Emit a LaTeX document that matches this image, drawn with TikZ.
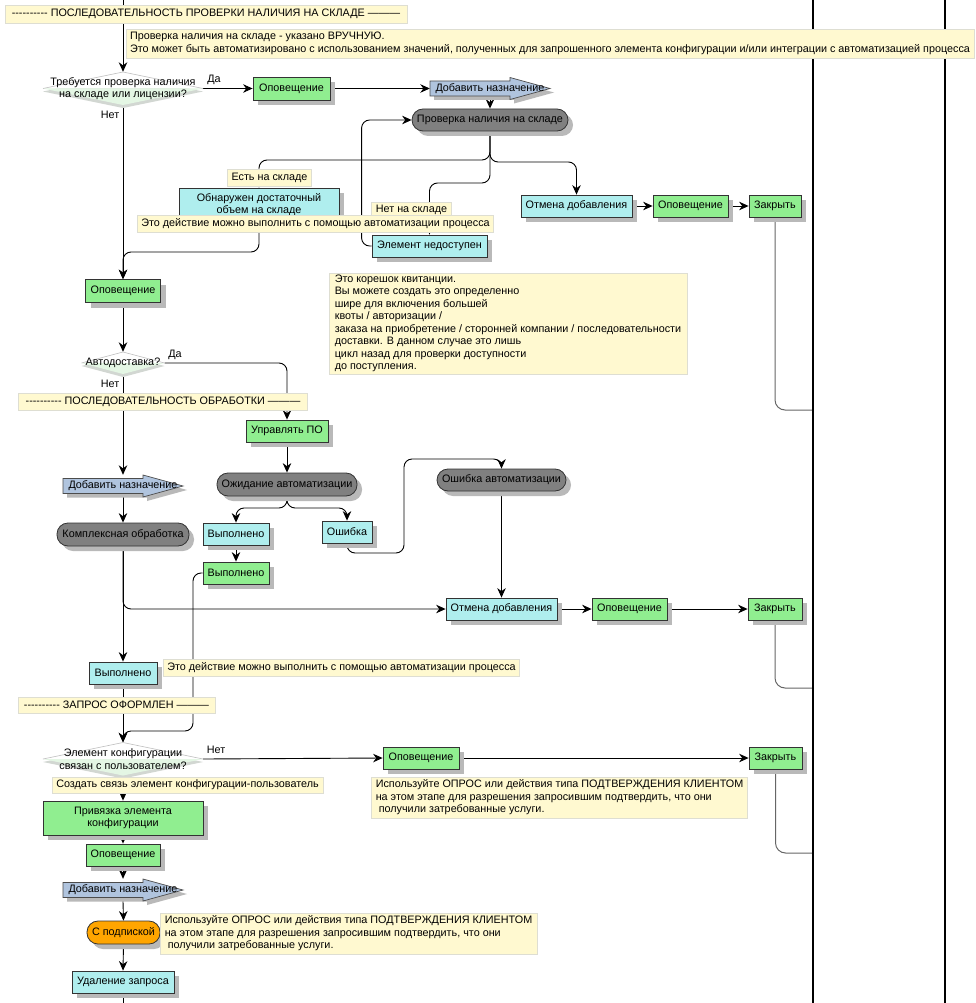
\documentclass[tikz,border=0pt]{standalone}
\usepackage{fontspec}
\setmainfont{Liberation Sans}[Ligatures=TeXOff]
\usetikzlibrary{arrows.meta,shadows}
\pgfdeclarelayer{back}
\pgfdeclarelayer{bg}
\pgfsetlayers{back,bg,main}
\definecolor{gfill}{RGB}{144,238,144}
\definecolor{cfill}{RGB}{175,238,238}
\definecolor{pfill}{RGB}{128,128,128}
\definecolor{afill}{RGB}{176,196,222}
\definecolor{ofill}{RGB}{255,165,0}
\definecolor{nfill}{RGB}{255,249,208}
\definecolor{nline}{RGB}{222,222,210}
\definecolor{shc}{RGB}{185,185,185}
\definecolor{dshc}{RGB}{210,215,210}
\definecolor{dfill}{RGB}{228,246,228}
\newcommand\addarrow[3]{%
\begin{scope}[shift={(#2,#3)}]
\fill[shc,shift={(4,4)}] (-60,-7.5)--(20,-7.5)--(20,-11)--(60,0)--(20,11)--(20,7.5)--(-60,7.5)--cycle;
\filldraw[fill=afill,draw=black!70,line width=0.7pt] (-60,-7.5)--(20,-7.5)--(20,-11)--(60,0)--(20,11)--(20,7.5)--(-60,7.5)--cycle;
\end{scope}
\node[txt,minimum width=120,minimum height=22] (#1) at (#2,#3) {Добавить назначение};}
\newcommand\decision[6]{%
\begin{scope}[shift={(#2,#3)}]
\fill[dshc,shift={(0,3)}] (-#4,0)--(0,-#5)--(#4,0)--(0,#5)--cycle;
\fill[white] (-#4,0)--(0,-#5)--(#4,0)--cycle;
\fill[dfill] (-#4,0)--(#4,0)--(0,#5)--cycle;
\draw[black!25,line width=0.6pt] (-#4,0)--(0,-#5)--(#4,0);
\end{scope}
\node[txt,minimum width=2*#4,minimum height=2*#5] (#1) at (#2,#3) {#6};}
\begin{document}
\begin{tikzpicture}[x=1pt,y=-1pt,
  every node/.style={font=\fontsize{10.8}{12.5}\selectfont},
  boxbase/.style={draw=black!80,line width=0.8pt,inner sep=0pt,align=center,
    drop shadow={shadow xshift=5pt,shadow yshift=-5pt,fill=shc,opacity=1}},
  gbox/.style={boxbase,fill=gfill},
  cbox/.style={boxbase,fill=cfill},
  pill/.style={boxbase,fill=pfill,rounded corners=11pt},
  opill/.style={boxbase,fill=ofill,rounded corners=11pt},
  note/.style={fill=nfill,draw=nline,line width=0.8pt,inner xsep=4pt,inner ysep=0pt,align=left},
  txt/.style={inner sep=0pt,align=center},
  conn/.style={line width=0.9pt,-{Stealth[length=9.5pt,width=8.5pt]}},
  plainline/.style={line width=0.9pt},
  lane/.style={draw=black!60,line width=1pt,rounded corners=10pt},
  rc/.style={rounded corners=8pt}
]
\useasboundingbox (0,0) rectangle (975,1003);
\begin{pgfonlayer}{back}
\fill[white] (0,0) rectangle (975,1003);
\end{pgfonlayer}
% swimlane lines
\coordinate (L1t) at (813,0); \coordinate (L1b) at (813,1003);
\coordinate (L2t) at (945,0); \coordinate (L2b) at (945,1003);
\draw[line width=1.3pt] (L1t)--(L1b);
\draw[line width=1.3pt] (L2t)--(L2b);
\coordinate (top) at (123,0);
\coordinate (bot) at (123,1003);
\coordinate (j1) at (813,410);
\coordinate (j2) at (813,688);
\coordinate (j3) at (813,853);

% ---------- shapes
\decision{d1}{123}{88.5}{80}{16.5}{Требуется проверка наличия\\на складе или лицензии?}
\node[gbox,minimum width=77,minimum height=23] (n1) at (291.5,88.5) {Оповещение};
\addarrow{add1}{490}{88.5}
\node[pill,minimum width=156,minimum height=22] (chk) at (490,120) {Проверка наличия на складе};
\node[cbox,minimum width=160,minimum height=33] (found) at (259,204.5) {Обнаружен достаточный\\объем на складе};
\node[cbox,minimum width=115,minimum height=22] (unav) at (429.5,246) {Элемент недоступен};
\node[cbox,minimum width=111,minimum height=22] (cancel1) at (576.5,206) {Отмена добавления};
\node[gbox,minimum width=75,minimum height=22] (n3) at (690.5,206) {Оповещение};
\node[gbox,minimum width=52,minimum height=22] (close1) at (775,206) {Закрыть};
\node[gbox,minimum width=75,minimum height=23] (n2) at (123,291) {Оповещение};
\decision{d2}{123}{363}{41.5}{11}{Автодоставка?}
\node[gbox,minimum width=82,minimum height=22] (mpo) at (287,431) {Управлять ПО};
\node[pill,minimum width=140,minimum height=23] (wait) at (287,484.5) {Ожидание автоматизации};
\addarrow{add2}{123}{486}
\node[pill,minimum width=132,minimum height=23] (cplx) at (123,534.5) {Комплексная обработка};
\node[cbox,minimum width=66,minimum height=22] (done1) at (236,534) {Выполнено};
\node[cbox,minimum width=50,minimum height=22] (err) at (347,532) {Ошибка};
\node[gbox,minimum width=66,minimum height=22] (done2) at (236,573) {Выполнено};
\node[pill,minimum width=129,minimum height=22] (erra) at (501.5,480) {Ошибка автоматизации};
\node[cbox,minimum width=111,minimum height=22] (cancel2) at (501.5,609) {Отмена добавления};
\node[gbox,minimum width=75,minimum height=22] (n4) at (629.5,609) {Оповещение};
\node[gbox,minimum width=54,minimum height=22] (close2) at (775,609) {Закрыть};
\node[cbox,minimum width=68,minimum height=22] (done3) at (123,673) {Выполнено};
\decision{d3}{123}{759}{80}{16.5}{Элемент конфигурации\\связан с пользователем?}
\node[gbox,minimum width=76,minimum height=22] (n5) at (421,758) {Оповещение};
\node[gbox,minimum width=53,minimum height=22] (close3) at (775.5,758) {Закрыть};
\node[gbox,minimum width=160,minimum height=34] (bind) at (123,818) {Привязка элемента\\конфигурации};
\node[gbox,minimum width=74,minimum height=22] (n6) at (123,855) {Оповещение};
\addarrow{add3}{123}{890}
\node[opill,minimum width=73,minimum height=23] (sub) at (123.5,932.5) {С подпиской};
\node[cbox,minimum width=102,minimum height=22] (del) at (123,982) {Удаление запроса};

% ---------- connectors
\begin{pgfonlayer}{bg}
\draw[plainline] (top) -- (top |- 0,5);
\draw[conn] (123,23) -- (d1.north);
\draw[conn] (d1.east) -- (n1.west);
\draw[conn] (n1.east) -- (add1.west);
\draw[conn] (add1.south) -- (chk.north);
\draw[conn,rc] (unav.west) -- ++(-10,0) |- (chk.west);
\draw[conn,rc] (chk.south) -- (490,160) -| (found.north);
\draw[conn,rc] (chk.south) -- (490,183) -| (unav.north);
\draw[conn,rc] (chk.south) -- (490,162) -| (cancel1.north);
\draw[conn] (cancel1.east) -- (n3.west);
\draw[conn] (n3.east) -- (close1.west);
\draw[lane] (close1.south) |- (j1);
\draw[conn,rc] (found.south) |- (123,252) -- (n2.north);
\draw[conn] (d1.south) -- (n2.north);
\draw[conn] (n2.south) -- (d2.north);
\draw[conn,rc] (d2.east) -| (mpo.north);
\draw[conn] (d2.south) -- (add2.north);
\draw[conn] (mpo.south) -- (wait.north);
\draw[conn,rc] (wait.south) -- (287,508) -| (done1.north);
\draw[conn,rc] (wait.south) -- (287,508) -| (err.north);
\draw[conn] (done1.south) -- (done2.north);
\draw[conn,rc] (err.south) |- (404,553) -- (404,459) -| (erra.north);
\draw[conn] (erra.south) -- (cancel2.north);
\draw[conn] (cancel2.east) -- (n4.west);
\draw[conn] (n4.east) -- (close2.west);
\draw[lane] (close2.south) |- (j2);
\draw[conn] (add2.south) -- (cplx.north);
\draw[conn] (cplx.south) -- (done3.north);
\draw[conn,rc] (cplx.south) |- (cancel2.west);
\draw[conn,rc] (done2.west) -- (193,573) |- (123,731) -- (d3.north);
\draw[conn] (done3.south) -- (d3.north);
\draw[conn] (d3.east) -- (n5.west);
\draw[conn] (n5.east) -- (close3.west);
\draw[lane] (close3.south) |- (j3);
\draw[conn] (d3.south) -- (bind.north);
\draw[conn] (bind.south) -- (n6.north);
\draw[conn] (n6.south) -- (add3.north);
\draw[conn] (add3.south) -- (sub.north);
\draw[conn] (sub.south) -- (del.north);
\draw[plainline] (del.south) -- (bot);
\end{pgfonlayer}

% ---------- branch labels
\node[txt] (yes1) at (214,80) {Да};
\node[txt] (no1) at (110,115) {Нет};
\node[txt] (yes2) at (175,355) {Да};
\node[txt] (no2) at (110,384) {Нет};
\node[txt] (no3) at (216,750) {Нет};
\node[note,minimum width=81,minimum height=17] (lin) at (269.5,177.5) {Есть на складе};
\node[note,minimum width=79,minimum height=16] (lout) at (411.5,210) {Нет на складе};
\node[note,minimum width=271,minimum height=16] (llink) at (187.5,785) {Создать связь элемент конфигурации-пользователь};

% ---------- headers and notes
\node[note,minimum width=402,minimum height=18] (h1) at (206,14) {---------- ПОСЛЕДОВАТЕЛЬНОСТЬ ПРОВЕРКИ НАЛИЧИЯ НА СКЛАДЕ ———};
\node[note,minimum width=844,minimum height=29] (note1) at (550,43.5) {Проверка наличия на складе - указано ВРУЧНУЮ.\\Это может быть автоматизировано с использованием значений, полученных для запрошенного элемента конфигурации и/или интеграции с автоматизацией процесса};
\node[note,minimum width=355,minimum height=17] (auto1) at (315.5,223.5) {Это действие можно выполнить с помощью автоматизации процесса};
\node[note,minimum width=358,minimum height=101] (stub) at (508,323.5) {Это корешок квитанции.\\Вы можете создать это определенно\\шире для включения большей\\квоты / авторизации /\\заказа на приобретение / сторонней компании / последовательности\\доставки. В данном случае это лишь\\цикл назад для проверки доступности\\до поступления.};
\node[note,minimum width=289,minimum height=17] (h2) at (163,401.5) {---------- ПОСЛЕДОВАТЕЛЬНОСТЬ ОБРАБОТКИ ———};
\node[note,minimum width=353,minimum height=17] (auto2) at (341.5,667.5) {Это действие можно выполнить с помощью автоматизации процесса};
\node[note,minimum width=197,minimum height=16] (h3) at (116.5,705) {---------- ЗАПРОС ОФОРМЛЕН ———};
\node[note,minimum width=375,minimum height=41] (use1) at (559.5,797.5) {Используйте ОПРОС или действия типа ПОДТВЕРЖДЕНИЯ КЛИЕНТОМ\\на этом этапе для разрешения запросившим подтвердить, что они\\\hspace{3pt}получили затребованные услуги.};
\node[note,minimum width=377,minimum height=41] (use2) at (348.5,933.5) {Используйте ОПРОС или действия типа ПОДТВЕРЖДЕНИЯ КЛИЕНТОМ\\на этом этапе для разрешения запросившим подтвердить, что они\\\hspace{3pt}получили затребованные услуги.};
\end{tikzpicture}
\end{document}
